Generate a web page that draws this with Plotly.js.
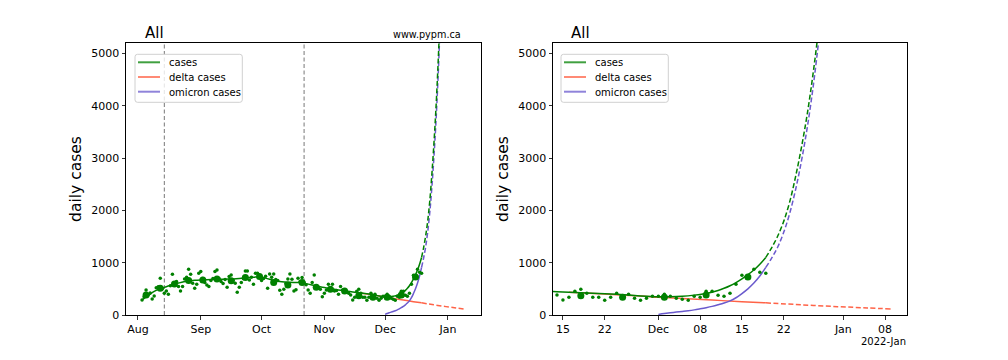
<!DOCTYPE html>
<html>
<head>
<meta charset="utf-8">
<script src="https://cdn.plot.ly/plotly-3.0.1.min.js"></script>
<style>html,body{margin:0;padding:0;background:#fff;}#chart{width:1008px;height:360px;}</style>
</head>
<body>
<div id="chart"></div>
<script>
// ---------------- data ----------------
const dailyStart = '2021-08-03';
const dailyCases = [
  // Aug 3 - Aug 31
  287,351,479,383,420,306,364,520,540,703,500,415,460,396,560,779,607,640,543,460,543,690,720,875,779,607,511,588,798,
  // Sep
  830,700,620,575,543,660,700,830,862,700,640,600,680,530,734,766,660,607,434,530,620,700,843,843,670,720,588,798,798,720,
  // Oct
  658,700,740,511,786,720,786,680,658,473,396,492,600,690,786,683,460,485,703,640,715,620,580,479,415,622,766,540,520,492,351,
  // Nov
  415,480,588,510,588,460,470,396,543,480,460,440,415,380,287,
  339,453,492,415,339,339,281,339,415,339,396,319,281,319,358,
  // Dec 1 - Dec 19
  358,396,358,319,300,281,358,339,453,453,377,358,415,588,760,722,875,817,798
];

const weeklyDates = ['2021-08-05','2021-08-12','2021-08-19','2021-08-26','2021-09-02','2021-09-09','2021-09-16',
  '2021-09-23','2021-09-30','2021-10-07','2021-10-14','2021-10-21','2021-10-28','2021-11-04','2021-11-11',
  '2021-11-18','2021-11-25','2021-12-02','2021-12-09','2021-12-16'];
const weeklyCases = [383,511,594,660,670,689,657,715,734,620,575,620,530,492,460,370,339,339,380,728];

const fitDates = ['2021-08-03','2021-08-06','2021-08-09','2021-08-12','2021-08-15','2021-08-18','2021-08-21','2021-08-25',
  '2021-08-29','2021-09-02','2021-09-06','2021-09-10','2021-09-15','2021-09-20','2021-09-25','2021-09-29','2021-10-03',
  '2021-10-07','2021-10-11','2021-10-15','2021-10-19','2021-10-23','2021-10-27','2021-10-31','2021-11-04','2021-11-08',
  '2021-11-12','2021-11-16','2021-11-20','2021-11-24','2021-11-28','2021-12-01','2021-12-03','2021-12-05','2021-12-07',
  '2021-12-09','2021-12-11','2021-12-12','2021-12-13','2021-12-14','2021-12-15','2021-12-16','2021-12-17','2021-12-18','2021-12-19'];
const fitCases = [290,370,450,505,540,580,610,645,665,672,678,683,688,700,715,728,705,660,635,625,620,600,565,530,505,480,
  458,434,418,395,365,348,348,358,380,412,470,510,560,620,690,770,860,970,1100];

const projDates = ['2021-12-19','2021-12-20','2021-12-21','2021-12-22','2021-12-23','2021-12-24','2021-12-25','2021-12-26',
  '2021-12-27','2021-12-28','2021-12-29'];
const projCases = [1100,1290,1510,1790,2160,2650,3220,3880,4680,5620,6700];
const projOmicron = [910,1090,1300,1580,1940,2400,2960,3620,4420,5380,6500];

const omicronDates = ['2021-12-01','2021-12-02','2021-12-03','2021-12-04','2021-12-05','2021-12-06','2021-12-07','2021-12-08',
  '2021-12-09','2021-12-10','2021-12-11','2021-12-12','2021-12-13','2021-12-14','2021-12-15','2021-12-16','2021-12-17',
  '2021-12-18','2021-12-19'];
const omicronCases = [12,28,42,55,68,82,98,118,140,165,195,228,270,330,410,500,610,745,910];

const deltaDates = ['2021-11-16','2021-11-22','2021-11-28','2021-12-01','2021-12-05','2021-12-10','2021-12-15','2021-12-19'];
const deltaCases = [434,400,365,338,315,285,255,232];
const deltaProjDates = ['2021-12-19','2021-12-25','2021-12-31','2022-01-05','2022-01-09'];
const deltaProjCases = [232,195,160,135,115];

const markerDates = ['2021-08-14','2021-10-22'];

const leftTickVals = ['2021-08-01','2021-09-01','2021-10-01','2021-11-01','2021-12-01','2022-01-01'];
const leftTickText = ['Aug','Sep','Oct','Nov','Dec','Jan'];
const rightTickVals = ['2021-11-15','2021-11-22','2021-12-01','2021-12-08','2021-12-15','2021-12-22','2022-01-01','2022-01-08'];
const rightTickText = ['15','22','Dec','08','15','22','Jan','08'];
const yTickVals = [0,1000,2000,3000,4000,5000];

const seriesNames = ['cases','delta cases','omicron cases'];

// ---------------- helpers ----------------
function dayList(start, n) {
  const t0 = Date.parse(start + 'T00:00:00Z');
  return Array.from({length: n}, (_, i) => new Date(t0 + i * 86400000).toISOString().slice(0, 10));
}
const dailyDates = dayList(dailyStart, dailyCases.length);

const GREEN = '#008000', RED = '#ff6347', BLUE = '#6a5acd';
const seriesColors = [GREEN, RED, BLUE];
const legendColors = ['rgba(0,128,0,0.75)', 'rgba(255,99,71,0.75)', 'rgba(106,90,205,0.75)'];

function panelTraces(xa, ya) {
  return [
    {x: deltaDates, y: deltaCases, xaxis: xa, yaxis: ya, name: seriesNames[1],
      mode: 'lines', line: {color: RED, width: 1.5, shape: 'spline'}},
    {x: deltaProjDates, y: deltaProjCases, xaxis: xa, yaxis: ya, name: seriesNames[1],
      mode: 'lines', line: {color: RED, width: 1.5, dash: '5px,2.5px', shape: 'spline'}},
    {x: omicronDates, y: omicronCases, xaxis: xa, yaxis: ya, name: seriesNames[2],
      mode: 'lines', line: {color: BLUE, width: 1.5, shape: 'spline'}},
    {x: projDates, y: projOmicron, xaxis: xa, yaxis: ya, name: seriesNames[2],
      mode: 'lines', line: {color: BLUE, width: 1.5, dash: '5px,2.5px', shape: 'spline'}},
    {x: fitDates, y: fitCases, xaxis: xa, yaxis: ya, name: seriesNames[0],
      mode: 'lines', line: {color: GREEN, width: 1.5, shape: 'spline', smoothing: 0.8}},
    {x: projDates, y: projCases, xaxis: xa, yaxis: ya, name: seriesNames[0],
      mode: 'lines', line: {color: GREEN, width: 1.5, dash: '5px,2.5px', shape: 'spline'}},
    {x: dailyDates, y: dailyCases, xaxis: xa, yaxis: ya, name: 'daily',
      mode: 'markers', marker: {color: GREEN, size: 3.5}},
    {x: weeklyDates, y: weeklyCases, xaxis: xa, yaxis: ya, name: 'weekly',
      mode: 'markers', marker: {color: GREEN, size: 7}}
  ];
}

const W = 1008, H = 360;
const px = v => v / W, py = v => (H - v) / H;

const axisCommon = {
  showline: true, mirror: true, linecolor: '#000', linewidth: 1,
  ticks: 'outside', ticklen: 3.5, tickwidth: 0.8, tickcolor: '#000',
  showgrid: false, zeroline: false, tickfont: {size: 11, color: '#000'}
};
const yDomain = [45 / H, 317 / H];

// matplotlib-style legend box drawn with shapes + text
function legendParts(left) {
  const top = 54.3, bottom = 102.3, right = left + 107.3, r = 2.5;
  const shapes = [{
    type: 'path', xref: 'paper', yref: 'paper', layer: 'above',
    path: `M ${px(left + r)},${py(top)} L ${px(right - r)},${py(top)} Q ${px(right)},${py(top)} ${px(right)},${py(top + r)} ` +
          `L ${px(right)},${py(bottom - r)} Q ${px(right)},${py(bottom)} ${px(right - r)},${py(bottom)} ` +
          `L ${px(left + r)},${py(bottom)} Q ${px(left)},${py(bottom)} ${px(left)},${py(bottom - r)} ` +
          `L ${px(left)},${py(top + r)} Q ${px(left)},${py(top)} ${px(left + r)},${py(top)} Z`,
    fillcolor: 'rgba(255,255,255,0.8)', line: {color: '#d0d0d0', width: 1}
  }];
  const annotations = [];
  const rows = [62.3, 77.0, 91.7];
  seriesNames.forEach((name, i) => {
    shapes.push({type: 'line', xref: 'paper', yref: 'paper', layer: 'above',
      x0: px(left + 3), x1: px(left + 25), y0: py(rows[i]), y1: py(rows[i]),
      line: {color: legendColors[i], width: 2}});
    annotations.push({text: name, xref: 'paper', yref: 'paper', x: px(left + 31.5), y: py(rows[i] + 0.3),
      xanchor: 'left', yanchor: 'middle', showarrow: false, font: {size: 10, color: '#000'}});
  });
  return {shapes, annotations};
}
const legL = legendParts(135), legR = legendParts(561);

const layout = {
  width: W, height: H,
  margin: {l: 0, r: 0, t: 0, b: 0},
  paper_bgcolor: '#fff', plot_bgcolor: '#fff',
  font: {family: 'DejaVu Sans', size: 11, color: '#000'},
  hovermode: false, showlegend: false,
  xaxis: Object.assign({}, axisCommon, {
    type: 'date', domain: [126 / W, 481 / W], anchor: 'y',
    range: ['2021-07-26 02:00', '2022-01-17 08:00'],
    tickmode: 'array', tickvals: leftTickVals, ticktext: leftTickText
  }),
  yaxis: Object.assign({}, axisCommon, {
    domain: yDomain, anchor: 'x', range: [0, 5200],
    tickmode: 'array', tickvals: yTickVals,
    title: {text: 'daily cases', font: {size: 15.5}, standoff: 5}
  }),
  xaxis2: Object.assign({}, axisCommon, {
    type: 'date', domain: [553 / W, 907 / W], anchor: 'y2',
    range: ['2021-11-13 08:00', '2022-01-11 16:00'],
    tickmode: 'array', tickvals: rightTickVals, ticktext: rightTickText
  }),
  yaxis2: Object.assign({}, axisCommon, {
    domain: yDomain, anchor: 'x2', range: [0, 5200],
    tickmode: 'array', tickvals: yTickVals,
    title: {text: 'daily cases', font: {size: 15.5}, standoff: 5}
  }),
  shapes: markerDates.map(d => ({
    type: 'line', xref: 'x', yref: 'y domain', x0: d, x1: d, y0: 0, y1: 1, layer: 'below',
    line: {color: '#777', width: 1, dash: '4px,2.5px'}
  })).concat(legL.shapes, legR.shapes),
  annotations: [
    {text: 'All', xref: 'paper', yref: 'paper', x: px(143), y: py(33), xanchor: 'left', yanchor: 'middle',
      showarrow: false, font: {size: 15}},
    {text: 'All', xref: 'paper', yref: 'paper', x: px(569), y: py(33), xanchor: 'left', yanchor: 'middle',
      showarrow: false, font: {size: 15}},
    {text: 'www.pypm.ca', xref: 'paper', yref: 'paper', x: px(463), y: py(34), xanchor: 'right', yanchor: 'middle',
      showarrow: false, font: {size: 9.7}},
    {text: '2022-Jan', xref: 'paper', yref: 'paper', x: px(908), y: py(341.5), xanchor: 'right', yanchor: 'middle',
      showarrow: false, font: {size: 10}}
  ].concat(legL.annotations, legR.annotations)
};

const traces = panelTraces('x', 'y').concat(panelTraces('x2', 'y2'));
Plotly.newPlot('chart', traces, layout, {displayModeBar: false, staticPlot: true});
</script>
</body>
</html>
